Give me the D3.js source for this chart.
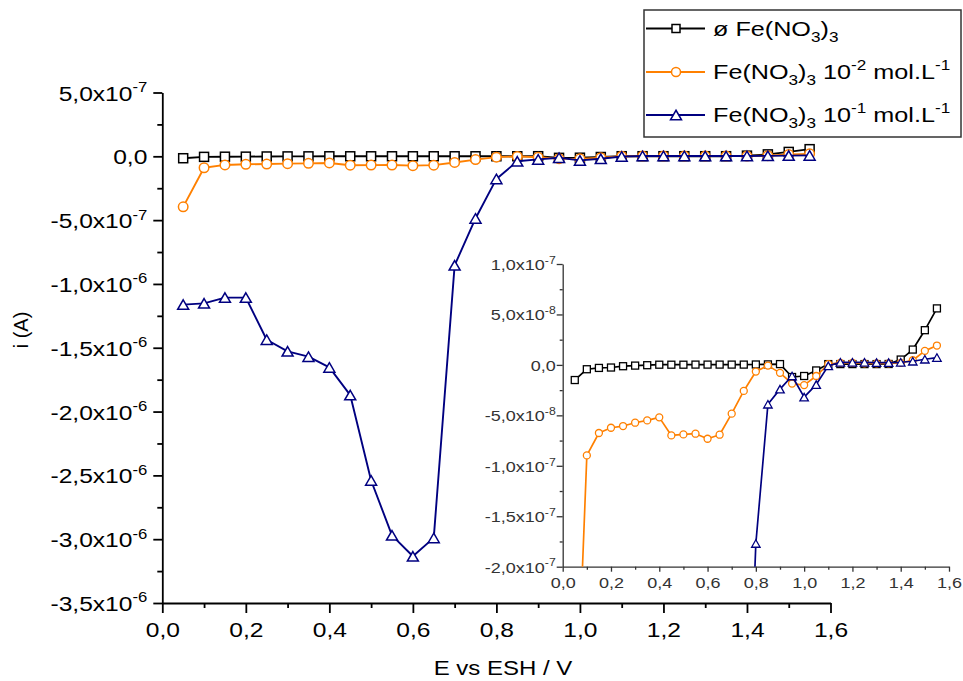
<!DOCTYPE html>
<html><head><meta charset="utf-8">
<script src="https://cdn.jsdelivr.net/npm/d3@7"></script>
<style>
body{margin:0;background:#fff;}
svg{display:block;}
text{font-family:"Liberation Sans",Arial,sans-serif;white-space:pre;}
</style>
</head><body>
<svg id="c" width="963" height="681"></svg>
<script>
// ---------------- DATA ----------------
const potentials = [0.05,0.10,0.15,0.20,0.25,0.30,0.35,0.40,0.45,0.50,0.55,0.60,0.65,0.70,0.75,0.80,0.85,0.90,0.95,1.00,1.05,1.10,1.15,1.20,1.25,1.30,1.35,1.40,1.45,1.50,1.55];
const currentNoFe = [-1.5e-8,-4.3e-9,-3.0e-9,-2.6e-9,-1.3e-9,-7e-10,-3e-10,2e-10,2e-10,2e-10,3e-10,3e-10,3e-10,3e-10,3e-10,4e-10,5e-10,8e-10,-1.2e-8,-1.1e-8,-5.5e-9,8e-10,8e-10,8e-10,8e-10,8e-10,9e-10,5.3e-9,1.52e-8,3.44e-8,5.6e-8];
const currentFe1e2 = [-3.96e-7,-8.97e-8,-6.75e-8,-6.23e-8,-6.06e-8,-5.73e-8,-5.50e-8,-5.20e-8,-6.99e-8,-6.89e-8,-6.82e-8,-7.32e-8,-6.92e-8,-4.83e-8,-2.58e-8,-6.6e-9,-7e-10,-7.9e-9,-1.85e-8,-2.0e-8,-1.1e-8,7e-10,2e-9,2e-9,1.5e-9,1.5e-9,1.5e-9,2.0e-9,4.6e-9,1.39e-8,1.92e-8];
const currentFe1e1 = [-1.162e-6,-1.152e-6,-1.107e-6,-1.107e-6,-1.437e-6,-1.528e-6,-1.570e-6,-1.654e-6,-1.871e-6,-2.540e-6,-2.970e-6,-3.134e-6,-2.990e-6,-8.54e-7,-4.87e-7,-1.77e-7,-3.9e-8,-2.4e-8,-1.1e-8,-3.2e-8,-1.95e-8,-1e-9,2.6e-9,2.6e-9,2.6e-9,2.3e-9,2.3e-9,2.6e-9,3.6e-9,5.6e-9,7.3e-9];
const seriesLabels = ["ø Fe(NO_{3})_{3}", "Fe(NO_{3})_{3} 10^{-2} mol.L^{-1}", "Fe(NO_{3})_{3} 10^{-1} mol.L^{-1}"];
const mainXTicks = [0,0.2,0.4,0.6,0.8,1.0,1.2,1.4,1.6];
const mainXLabels = ["0,0","0,2","0,4","0,6","0,8","1,0","1,2","1,4","1,6"];
const mainYTicks = [5e-7,0,-5e-7,-1e-6,-1.5e-6,-2e-6,-2.5e-6,-3e-6,-3.5e-6];
const mainYLabels = ["5,0x10^{-7}","0,0","-5,0x10^{-7}","-1,0x10^{-6}","-1,5x10^{-6}","-2,0x10^{-6}","-2,5x10^{-6}","-3,0x10^{-6}","-3,5x10^{-6}"];
const insetXTicks = [0,0.2,0.4,0.6,0.8,1.0,1.2,1.4,1.6];
const insetXLabels = ["0,0","0,2","0,4","0,6","0,8","1,0","1,2","1,4","1,6"];
const insetYTicks = [1e-7,5e-8,0,-5e-8,-1e-7,-1.5e-7,-2e-7];
const insetYLabels = ["1,0x10^{-7}","5,0x10^{-8}","0,0","-5,0x10^{-8}","-1,0x10^{-7}","-1,5x10^{-7}","-2,0x10^{-7}"];
const xTitle = "E vs ESH / V";
const yTitle = "i (A)";

// ---------------- STYLE ----------------
const colors = ["#000000", "#FF8000", "#000080"];
const shapes = ["square", "circle", "triangle"];
const SX = 1.2; // horizontal stretch of the reference text

const svg = d3.select('#c');

function rich(t, str, fs) {
  const parts = str.split(/(_\{[^}]*\}|\^\{[^}]*\})/).filter(s => s.length);
  let shift = 0;
  parts.forEach(p => {
    let type = null, s = p;
    if (p.startsWith('_{')) { type = 'sub'; s = p.slice(2, -1); }
    else if (p.startsWith('^{')) { type = 'sup'; s = p.slice(2, -1); }
    const target = type === 'sub' ? fs * 0.3 : type === 'sup' ? -fs * 0.42 : 0;
    t.append('tspan').attr('dy', target - shift).attr('font-size', type ? fs * 0.68 : fs).text(s);
    shift = target;
  });
}

function addAxis(parent, orient, scale, pos, majors, labels, st) {
  const mk = () => orient === 'left' ? d3.axisLeft(scale) : d3.axisBottom(scale);
  const tr = orient === 'left' ? `translate(${pos},0)` : `translate(0,${pos})`;
  // minor ticks
  const [d0, d1] = scale.domain();
  const step = (majors[1] - majors[0]) / 2;
  const minors = d3.range(Math.min(d0, d1), Math.max(d0, d1) + 1e-20, Math.abs(step))
    .filter(v => !majors.some(m => Math.abs(m - v) < Math.abs(step) * 0.1));
  const gm = parent.append('g').attr('transform', tr)
    .call(mk().tickValues(minors).tickSize(st.minor).tickSizeOuter(0).tickFormat(() => ''));
  gm.select('.domain').remove();
  gm.selectAll('text').remove();
  gm.selectAll('.tick line').attr('stroke', st.color).attr('stroke-width', st.width);
  // major ticks
  const g = parent.append('g').attr('transform', tr)
    .call(mk().tickValues(majors).tickSize(st.major).tickSizeOuter(0).tickFormat(() => ''));
  g.select('.domain').attr('stroke', st.color).attr('stroke-width', st.width);
  g.selectAll('.tick line').attr('stroke', st.color).attr('stroke-width', st.width);
  g.selectAll('.tick text').remove();
  g.selectAll('.tick').each(function (d, i) {
    const t = d3.select(this).append('text')
      .attr('fill', st.color).attr('font-size', st.fs)
      .attr('text-anchor', orient === 'left' ? 'end' : 'middle')
      .attr('transform', orient === 'left'
        ? `translate(${-st.lx},${st.ly}) scale(${SX},1)`
        : `translate(0,${st.ly}) scale(${SX},1)`);
    rich(t, labels[i], st.fs);
  });
}

function drawSeries(parent, xs, ys, vals, color, shape, ms, lw) {
  const data = xs.map((x, i) => [x, vals[i]]);
  const line = d3.line().x(d => xs(d[0])).y(d => ys(d[1]));
  parent.append('path').datum(data).attr('d', line)
    .attr('fill', 'none').attr('stroke', color).attr('stroke-width', lw).attr('stroke-linejoin', 'round');
  drawMarkers(parent, data.map(d => [xs(d[0]), ys(d[1])]), color, shape, ms);
}
function drawMarkers(parent, pts, color, shape, ms) {
  const g = parent.append('g').attr('fill', '#fff').attr('stroke', color).attr('stroke-width', ms.sw);
  pts.forEach(([px, py]) => {
    if (shape === 'square') {
      g.append('rect').attr('x', px - ms.sq / 2).attr('y', py - ms.sq / 2).attr('width', ms.sq).attr('height', ms.sq);
    } else if (shape === 'circle') {
      g.append('circle').attr('cx', px).attr('cy', py).attr('r', ms.ci / 2);
    } else {
      const w = ms.tw, h = ms.th;
      g.append('path').attr('d', `M${px},${py - h / 2}L${px + w / 2},${py + h / 2}L${px - w / 2},${py + h / 2}Z`);
    }
  });
}

const seriesVals = [currentNoFe, currentFe1e2, currentFe1e1];

// ---------------- MAIN CHART ----------------
const xMain = d3.scaleLinear().domain([0, 1.6]).range([162.3, 830.5]);
const yMain = d3.scaleLinear().domain([-3.5e-6, 5e-7]).range([603, 92.5]);
const mainG = svg.append('g');
const mainStyle = { color: '#000', width: 1.8, major: 9, minor: 5, fs: 20.5 };
addAxis(mainG, 'bottom', xMain, 603, mainXTicks, mainXLabels, Object.assign({}, mainStyle, { major: 10, ly: 34 }));
addAxis(mainG, 'left', yMain, 162.3, mainYTicks, mainYLabels, Object.assign({}, mainStyle, { lx: 15, ly: 7.5 }));
const mainMs = { sq: 9, ci: 9.5, tw: 11, th: 9.5, sw: 1.5 };
seriesVals.forEach((v, i) => {
  const data = potentials.map((x, j) => [x, v[j]]);
  mainG.append('path').datum(data)
    .attr('d', d3.line().x(d => xMain(d[0])).y(d => yMain(d[1])))
    .attr('fill', 'none').attr('stroke', colors[i]).attr('stroke-width', 1.9).attr('stroke-linejoin', 'round');
  drawMarkers(mainG, data.map(d => [xMain(d[0]), yMain(d[1])]), colors[i], shapes[i], mainMs);
});

svg.append('text').attr('font-size', 20).attr('text-anchor', 'middle')
  .attr('transform', `translate(503,675) scale(${SX},1)`).text(xTitle);
svg.append('text').attr('font-size', 20).attr('text-anchor', 'middle')
  .attr('transform', `translate(28,330) rotate(-90)`).text(yTitle);

// ---------------- INSET ----------------
const xIn = d3.scaleLinear().domain([0, 1.6]).range([562.7, 949]);
const yIn = d3.scaleLinear().domain([-2e-7, 1e-7]).range([566.7, 264]);
const inG = svg.append('g');
svg.append('defs').append('clipPath').attr('id', 'inClip').append('rect')
  .attr('x', 562.7).attr('y', 260).attr('width', 392).attr('height', 306.7);
const inStyle = { color: '#333', width: 1.3, major: 6, minor: 3, fs: 15 };
addAxis(inG, 'bottom', xIn, 566.7, insetXTicks, insetXLabels, Object.assign({}, inStyle, { major: 5, ly: 21 }));
addAxis(inG, 'left', yIn, 562.7, insetYTicks, insetYLabels, Object.assign({}, inStyle, { lx: 7, ly: 5.5 }));
const inPlot = inG.append('g').attr('clip-path', 'url(#inClip)');
const inMs = { sq: 7, ci: 7, tw: 8.5, th: 7.5, sw: 1.3 };
seriesVals.forEach((v, i) => {
  const data = potentials.map((x, j) => [x, v[j]]);
  inPlot.append('path').datum(data)
    .attr('d', d3.line().x(d => xIn(d[0])).y(d => yIn(d[1])))
    .attr('fill', 'none').attr('stroke', colors[i]).attr('stroke-width', 1.7).attr('stroke-linejoin', 'round');
  drawMarkers(inPlot, data.map(d => [xIn(d[0]), yIn(d[1])]), colors[i], shapes[i], inMs);
});

// ---------------- LEGEND ----------------
const leg = svg.append('g');
leg.append('rect').attr('x', 644).attr('y', 10).attr('width', 317).attr('height', 127)
  .attr('fill', '#fff').attr('stroke', '#333').attr('stroke-width', 1.5);
const legRows = [28.5, 72, 115];
const legMs = { sq: 8, ci: 9, tw: 11, th: 9.5, sw: 1.5 };
seriesLabels.forEach((lab, i) => {
  const y = legRows[i];
  leg.append('line').attr('x1', 646).attr('x2', 705).attr('y1', y).attr('y2', y)
    .attr('stroke', colors[i]).attr('stroke-width', 1.9);
  drawMarkers(leg, [[676, y]], colors[i], shapes[i], legMs);
  const t = leg.append('text').attr('font-size', 21)
    .attr('transform', `translate(713,${y + 7}) scale(${SX},1)`);
  rich(t, lab, 21);
});
</script>
</body></html>
